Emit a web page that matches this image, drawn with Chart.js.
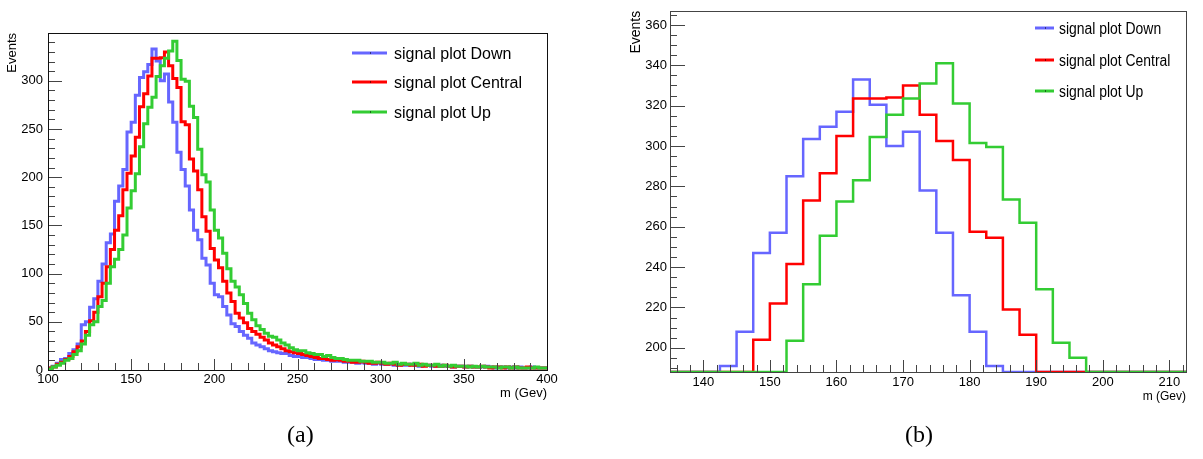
<!DOCTYPE html>
<html>
<head>
<meta charset="utf-8">
<script src="https://cdn.jsdelivr.net/npm/chart.js"></script>
<style>
  body { margin: 0; background: #fff; width: 1203px; height: 459px; position: relative; overflow: hidden; }
  canvas { position: absolute; top: 0; }
  #chartA { left: 0; }
  #chartB { left: 600px; }
  .cap { position: absolute; top: 421px; font: 24px 'Liberation Serif', serif; color: #000; }
</style>
</head>
<body>
<canvas id="chartA" width="600" height="459"></canvas>
<canvas id="chartB" width="603" height="459"></canvas>
<div class="cap" style="left:287px">(a)</div>
<div class="cap" style="left:905px">(b)</div>
<script>
const FONT = "'Liberation Sans', Arial, sans-serif";

// histogram binning (m in GeV)
const firstEdge = 100;
const binWidth = 2.5;

const seriesNames = ['signal plot Down', 'signal plot Central', 'signal plot Up'];
const seriesColors = ['#6666ff', '#ff0000', '#33cc33'];

// labelled ticks
const xTicksA = [100, 150, 200, 250, 300, 350, 400];
const yTicksA = [0, 50, 100, 150, 200, 250, 300];
const xTicksB = [140, 150, 160, 170, 180, 190, 200, 210];
const yTicksB = [200, 220, 240, 260, 280, 300, 320, 340, 360];

// events per bin
const downCounts = [
  2, 4, 7, 11, 12, 17, 21, 27, 47, 50,
  65, 74, 92, 110, 132, 141, 175, 191, 208, 247,
  257, 285, 303.5, 309.5, 317, 333, 320.5, 300, 307, 278,
  257, 226, 208, 191, 166, 145, 135, 116, 109, 90,
  78, 76, 66, 57, 48, 45, 40, 36, 33, 28,
  26, 24, 22, 20, 19, 18, 17, 17, 15, 14,
  14, 13, 13, 12, 11, 11, 10, 10, 9, 9,
  9, 8, 8, 8, 7, 8, 7, 7, 6, 7,
  6, 6, 6, 5, 6, 5, 5, 6, 5, 4,
  5, 5, 4, 4, 5, 4, 4, 3, 4, 4,
  3, 4, 3, 3, 3, 4, 3, 2, 3, 3,
  2, 3, 2, 3, 2, 2, 3, 2, 2, 2
];
const centralCounts = [
  2, 3, 6, 8, 11, 14, 19, 24, 30, 40,
  51, 60, 76, 90, 107, 125, 145, 160, 187, 204,
  222, 241.5, 273, 286.5, 305, 323.5, 323.5, 324, 330, 315.5,
  302.5, 293, 257.5, 254.5, 219, 206.5, 187, 159, 144, 126,
  114, 106, 92, 80, 71, 59, 54, 49, 43, 40,
  37, 34, 31, 28, 26, 24, 22, 20, 19, 18,
  17, 16, 15, 14, 13, 12, 12, 11, 10, 11,
  10, 9, 9, 8, 8, 9, 8, 7, 7, 8,
  7, 6, 7, 6, 5, 6, 6, 5, 5, 6,
  4, 5, 5, 4, 4, 5, 4, 3, 4, 4,
  3, 4, 3, 3, 4, 3, 2, 3, 3, 2,
  3, 2, 3, 2, 2, 3, 2, 2, 2, 2
];
const upCounts = [
  1, 3, 5, 7, 10, 12, 16, 20, 27, 36,
  47, 50, 66, 72, 90, 107, 115, 125, 140, 168,
  186, 203.5, 231.5, 255.5, 272.5, 283, 304.5, 315.5, 323.5, 331,
  341, 321, 301.5, 299.5, 273.5, 262, 229, 202.5, 195, 166,
  145, 137, 121, 105, 92, 86, 78, 69, 59, 52,
  46, 42, 38, 35, 34, 31, 28, 26, 23, 21,
  20, 20, 18, 17, 16, 16, 14, 15, 13, 12,
  12, 11, 10, 10, 10, 9, 9, 9, 8, 8,
  8, 7, 7, 8, 6, 7, 6, 6, 7, 5,
  6, 5, 5, 6, 4, 5, 4, 5, 4, 4,
  4, 3, 4, 3, 4, 3, 3, 3, 2, 3,
  3, 2, 3, 2, 2, 2, 2, 3, 2, 2
];
const allCounts = [downCounts, centralCounts, upCounts];

// bins below the frame minimum sit on the bottom edge (as ROOT draws them)
function histPoints(counts, floor) {
  const pts = counts.map((v, i) => ({ x: firstEdge + i * binWidth, y: Math.max(v, floor) }));
  pts.push({ x: firstEdge + counts.length * binWidth, y: Math.max(counts[counts.length - 1], floor) });
  return pts;
}

function makeDatasets(floor, width) {
  return allCounts.map((counts, i) => ({
    label: seriesNames[i],
    data: histPoints(counts, floor),
    borderColor: seriesColors[i],
    borderWidth: width,
    stepped: 'before',
    pointRadius: 0,
    fill: false,
    order: 2 - i
  }));
}

// inner ticks + box frame, ROOT style
const rootFrame = {
  id: 'rootFrame',
  afterDatasetsDraw(chart, args, o) {
    const { ctx, chartArea: a } = chart;
    const x = chart.scales.x, y = chart.scales.y;
    ctx.save();
    ctx.lineWidth = 1;
    ctx.strokeStyle = o.tickColor;
    ctx.beginPath();
    for (let k = Math.ceil(x.min / o.xMinor); k * o.xMinor <= x.max + 1e-9; k++) {
      const v = k * o.xMinor;
      const px = Math.round(x.getPixelForValue(v)) + 0.5;
      const major = Math.abs(v / o.xMajor - Math.round(v / o.xMajor)) < 1e-6;
      ctx.moveTo(px, a.bottom);
      ctx.lineTo(px, a.bottom - (major ? o.xMajorLen : o.minorLen));
    }
    for (let k = Math.ceil(y.min / o.yMinor); k * o.yMinor <= y.max + 1e-9; k++) {
      const v = k * o.yMinor;
      const py = Math.round(y.getPixelForValue(v)) + 0.5;
      const major = Math.abs(v / o.yMajor - Math.round(v / o.yMajor)) < 1e-6;
      ctx.moveTo(a.left, py);
      ctx.lineTo(a.left + (major ? o.yMajorLen : o.minorLen), py);
    }
    ctx.stroke();
    ctx.strokeStyle = o.frameColor;
    ctx.strokeRect(Math.round(a.left) + 0.5, Math.round(a.top) + 0.5,
      Math.round(a.right - a.left), Math.round(a.bottom - a.top));
    ctx.restore();
  }
};

const rootLegend = {
  id: 'rootLegend',
  afterDraw(chart, args, o) {
    const ctx = chart.ctx;
    ctx.save();
    chart.data.datasets.forEach((ds, i) => {
      const yy = o.rows[i];
      ctx.strokeStyle = ds.borderColor;
      ctx.lineWidth = o.lineWidth;
      ctx.beginPath();
      ctx.moveTo(o.x0, yy);
      ctx.lineTo(o.x1, yy);
      ctx.stroke();
      ctx.fillStyle = '#000';
      ctx.fillRect(Math.round((o.x0 + o.x1) / 2), yy - 0.5, 1, 1);
      ctx.save();
      ctx.translate(o.textX, yy + o.baseline);
      ctx.scale(o.squeeze, 1);
      ctx.font = o.font;
      ctx.textBaseline = 'alphabetic';
      ctx.fillText(ds.label, 0, 0);
      ctx.restore();
    });
    ctx.restore();
  }
};

function axis(min, max, tickValues, fontSize, pad, fit, title) {
  return {
    type: 'linear',
    min: min,
    max: max,
    grid: { display: false, drawTicks: false },
    border: { display: false },
    ticks: { padding: pad, color: '#000', font: { family: FONT, size: fontSize } },
    afterBuildTicks: (s) => { s.ticks = tickValues.map((v) => ({ value: v })); },
    title: title,
    afterFit: fit
  };
}

// panel (a): full range
new Chart(document.getElementById('chartA'), {
  type: 'line',
  data: { datasets: makeDatasets(-1, 3) },
  options: {
    responsive: false,
    animation: false,
    layout: { padding: { top: 33, right: 53, bottom: 54, left: 0 } },
    scales: {
      x: axis(100, 400, xTicksA, 13, 2, (s) => { s.height = 35; },
        { display: true, text: 'm (Gev)', align: 'end', color: '#000', font: { family: FONT, size: 13 }, padding: { top: 0, bottom: 4 } }),
      y: axis(0, 349.6, yTicksA, 13, 5, (s) => { s.width = 48; },
        { display: true, text: 'Events', align: 'end', color: '#000', font: { family: FONT, size: 13 }, padding: { top: 5, bottom: 0 } })
    },
    plugins: {
      legend: { display: false },
      tooltip: { enabled: false },
      rootFrame: { xMinor: 10, xMajor: 50, yMinor: 10, yMajor: 50, xMajorLen: 11, yMajorLen: 14, minorLen: 7, tickColor: '#444', frameColor: '#111' },
      rootLegend: { x0: 352, x1: 387, textX: 394, rows: [53, 82, 112], baseline: 6, lineWidth: 3, font: '16px ' + FONT, squeeze: 1 }
    }
  },
  plugins: [rootFrame, rootLegend]
});

// panel (b): zoom on the peak
new Chart(document.getElementById('chartB'), {
  type: 'line',
  data: { datasets: makeDatasets(188, 2.5) },
  options: {
    responsive: false,
    animation: false,
    layout: { padding: { top: 1, right: 17, bottom: 52, left: 0 } },
    scales: {
      x: axis(135, 212.5, xTicksB, 13, 3, (s) => { s.height = 35; },
        { display: true, text: 'm (Gev)', align: 'end', color: '#000', font: { family: FONT, size: 12 }, padding: { top: 0, bottom: 3 } }),
      y: axis(188, 367, yTicksB, 13, 3, (s) => { s.width = 70; },
        { display: true, text: 'Events', align: 'end', color: '#000', font: { family: FONT, size: 14 }, padding: { top: 28, bottom: 0 } })
    },
    plugins: {
      legend: { display: false },
      tooltip: { enabled: false },
      rootFrame: { xMinor: 2, xMajor: 10, yMinor: 5, yMajor: 20, xMajorLen: 12, yMajorLen: 15, minorLen: 7, tickColor: '#444', frameColor: '#444' },
      rootLegend: { x0: 435, x1: 454, textX: 459, rows: [28, 60, 91], baseline: 6, lineWidth: 3, font: '16px ' + FONT, squeeze: 0.87 }
    }
  },
  plugins: [rootFrame, rootLegend]
});
</script>
</body>
</html>
